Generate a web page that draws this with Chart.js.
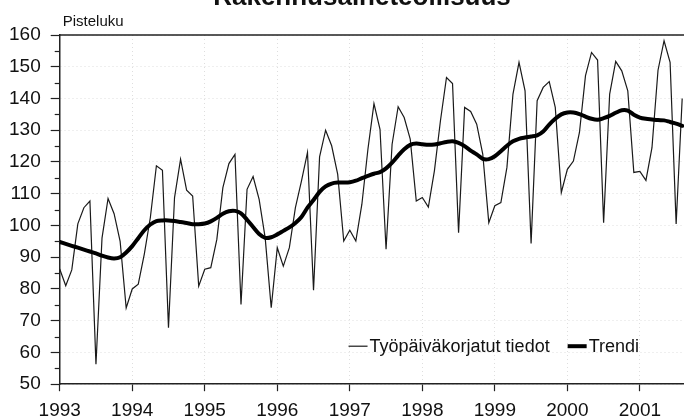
<!DOCTYPE html>
<html><head><meta charset="utf-8">
<script src="https://cdn.jsdelivr.net/npm/chart.js@4.4.1/dist/chart.umd.min.js"></script>
<style>html,body{margin:0;padding:0;background:#fff}#wrap{width:684px;height:420px;position:relative;overflow:hidden}</style>
</head><body><div id="wrap"><canvas id="c" width="684" height="420"></canvas></div>
<script>
const chartTitle = 'Rakennusaineteollisuus';
const unitLabel = 'Pisteluku';
const years = ['1993','1994','1995','1996','1997','1998','1999','2000','2001'];
const seriesNames = ['Työpäiväkorjatut tiedot', 'Trendi'];

// Monthly values, Jan 1993 onwards
const workdayAdjusted = [
  86.3, 81, 86, 100.5, 105.6, 107.7, 56.3, 96, 108.5, 103.7, 95, 74,
  80, 81.5, 91, 102.5, 118.8, 117.4, 67.8, 108.8, 120.9, 111.1, 109.3, 80.9,
  86.2, 86.7, 95.6, 111.9, 119.5, 122.4, 75.1, 111.4, 115.4, 108.2, 96.1, 74.1,
  93, 87.2, 93, 105.6, 114, 123, 79.6, 121.6, 130, 125.1, 116.1, 95.1,
  98.5, 95.1, 106.7, 124, 138.4, 130.3, 92.5, 125.6, 137.4, 134, 127.2, 107.7,
  108.8, 105.8, 117.2, 133, 146.6, 144.7, 97.7, 137.2, 135.9, 131.9, 122.5, 100.9,
  106.2, 107.2, 118.3, 141.4, 151.4, 142.4, 94.3, 139.3, 143.5, 145.3, 137.2, 110.4,
  117.7, 120.3, 129.3, 147.2, 154.5, 152.1, 100.9, 141.4, 151.7, 148.7, 142.4, 116.7,
  117, 114.2, 124.5, 148.9, 158.2, 151.4, 100.5, 140
];
const trend = [
  94.8, 94.2, 93.6, 93, 92.4, 91.8, 91.2, 90.5, 89.9, 89.6, 90, 91.5,
  93.5, 96, 98.5, 100.3, 101.4, 101.6, 101.6, 101.4, 101.1, 100.8, 100.4, 100.4,
  100.6, 101.3, 102.4, 103.7, 104.5, 104.6, 103.8, 101.8, 99.5, 97.3, 96.1, 96.3,
  97.2, 98.3, 99.4, 100.8, 102.7, 105.6, 108, 110.6, 112.3, 113.2, 113.5, 113.5,
  113.6, 114.1, 114.9, 115.6, 116.3, 116.8, 118, 119.8, 122, 124, 125.4, 125.8,
  125.6, 125.4, 125.5, 125.9, 126.3, 126.5, 126, 125, 123.6, 122.4, 121, 120.9,
  121.8, 123.4, 125.1, 126.5, 127.3, 127.7, 128, 128.4, 129.6, 131.8, 133.6, 135,
  135.6, 135.6, 135.1, 134.3, 133.6, 133.3, 133.8, 134.5, 135.5, 136.3, 136.2, 134.9,
  134, 133.6, 133.4, 133.2, 133.1, 132.6, 132.1, 131.4
];

const FONT = '"Liberation Sans", Arial, Helvetica, sans-serif';
Chart.defaults.font.family = FONT;
Chart.defaults.color = '#111';

const toXY = arr => arr.map((v, i) => ({x: i, y: v}));

const decor = {
  id: 'decor',
  afterDraw(chart) {
    const {ctx, chartArea: ca, scales: {x, y}} = chart;
    ctx.save();
    // top frame line
    ctx.strokeStyle = '#222'; ctx.lineWidth = 1.5;
    ctx.beginPath(); ctx.moveTo(ca.left, ca.top); ctx.lineTo(ca.right, ca.top); ctx.stroke();
    // minor y ticks
    ctx.lineWidth = 1.2;
    for (let v = 55; v < 160; v += 10) {
      const py = Math.round(y.getPixelForValue(v)) + 0.5;
      ctx.beginPath(); ctx.moveTo(ca.left - 5, py); ctx.lineTo(ca.left, py); ctx.stroke();
    }
    // title (cropped at top) and unit label
    ctx.fillStyle = '#111';
    ctx.textBaseline = 'alphabetic';
    ctx.textAlign = 'center';
    ctx.font = 'bold 26px ' + FONT;
    ctx.fillText(chartTitle, 362, 5);
    ctx.textAlign = 'left';
    ctx.font = '15px ' + FONT;
    ctx.fillText(unitLabel, ca.left + 3, 26);
    // legend inside plot area
    ctx.font = '18px ' + FONT;
    ctx.textBaseline = 'middle';
    const ly = ca.bottom - 38;
    let xr = ca.right - 45;
    const items = chart.data.datasets.slice().reverse();
    items.forEach(ds => {
      const w = ctx.measureText(ds.label).width;
      const tx = xr - w;
      ctx.fillText(ds.label, tx, ly + 1);
      ctx.strokeStyle = ds.borderColor; ctx.lineWidth = ds.borderWidth;
      ctx.beginPath(); ctx.moveTo(tx - 21, ly); ctx.lineTo(tx - 2, ly); ctx.stroke();
      xr = tx - 21 - 18;
    });
    ctx.restore();
  }
};

new Chart(document.getElementById('c'), {
  type: 'line',
  data: {
    datasets: [
      {label: seriesNames[0], data: toXY(workdayAdjusted), borderColor: '#1a1a1a', borderWidth: 1.2,
       pointRadius: 0, tension: 0, order: 2},
      {label: seriesNames[1], data: toXY(trend), borderColor: '#000', borderWidth: 4,
       pointRadius: 0, tension: 0.3, order: 1, borderCapStyle: 'round', borderJoinStyle: 'round'}
    ]
  },
  options: {
    responsive: false, animation: false, devicePixelRatio: 1,
    layout: {padding: {left: -1, right: 0, top: 35, bottom: -10}},
    plugins: {legend: {display: false}, tooltip: {enabled: false}},
    scales: {
      x: {
        type: 'linear', min: 0, max: 103.3,
        afterBuildTicks: s => { s.ticks = years.map((yr, k) => ({value: k * 12})); },
        ticks: {autoSkip: false, maxRotation: 0, padding: 8, color: '#111', font: {size: 19},
                callback: v => years[Math.round(v / 12)]},
        grid: {color: 'rgba(0,0,0,0.13)', lineWidth: 1, tickLength: 7, tickColor: '#222', tickWidth: 1.2},
        border: {color: '#222', width: 1.5, dash: [1, 3]}
      },
      y: {
        min: 50, max: 160,
        ticks: {stepSize: 10, padding: 10, color: '#111', font: {size: 19}},
        grid: {color: 'rgba(0,0,0,0.13)', lineWidth: 1, tickLength: 9, tickColor: '#222', tickWidth: 1.2},
        border: {color: '#222', width: 1.5, dash: [1, 3]}
      }
    }
  },
  plugins: [decor]
});
</script></body></html>
